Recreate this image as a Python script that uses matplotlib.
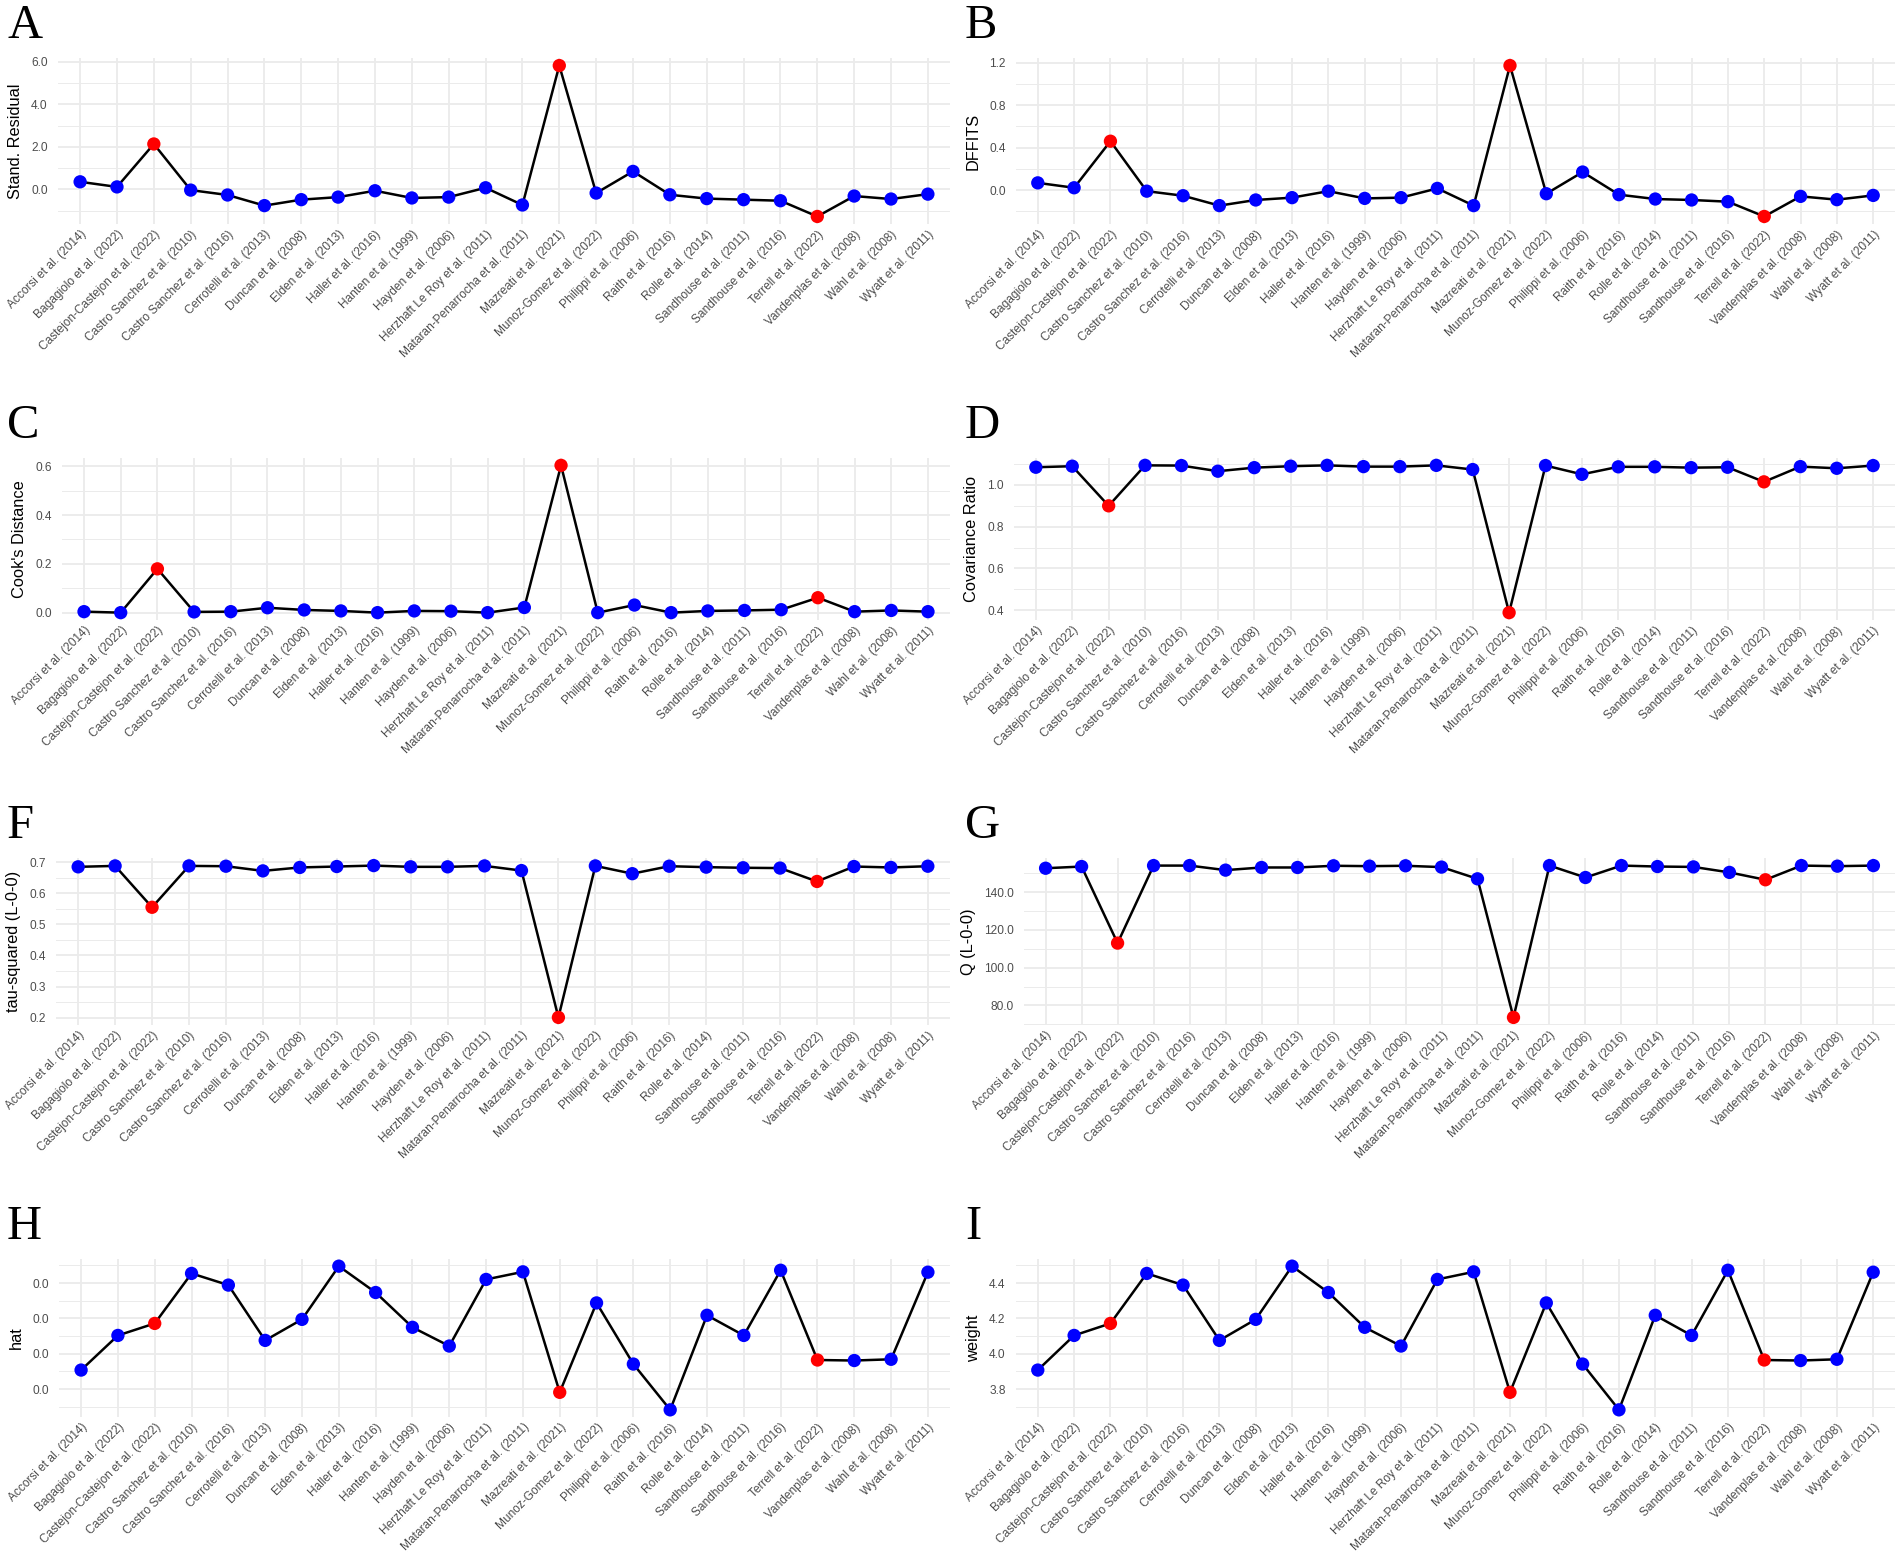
import matplotlib
matplotlib.use("Agg")
import matplotlib.pyplot as plt
from matplotlib.ticker import MultipleLocator, AutoMinorLocator, FormatStrFormatter

# ----------------------------
# Data
# ----------------------------

studies = [
    "Accorsi et al. (2014)", "Bagagiolo et al. (2022)",
    "Castejon-Castejon et al. (2022)", "Castro Sanchez et al. (2010)",
    "Castro Sanchez et al. (2016)", "Cerrotelli et al. (2013)",
    "Duncan et al. (2008)", "Elden et al. (2013)", "Haller et al. (2016)",
    "Hanten et al. (1999)", "Hayden et al. (2006)",
    "Herzhaft Le Roy et al. (2011)", "Mataran-Penarrocha et al. (2011)",
    "Mazreati et al. (2021)", "Munoz-Gomez et al. (2022)",
    "Philippi et al. (2006)", "Raith et al. (2016)", "Rolle et al. (2014)",
    "Sandhouse et al. (2011)", "Sandhouse et al. (2016)",
    "Terrell et al. (2022)", "Vandenplas et al. (2008)",
    "Wahl et al. (2008)", "Wyatt et al. (2011)",
]

# studies flagged as influential (drawn in red)
influential = [
    "Castejon-Castejon et al. (2022)",
    "Mazreati et al. (2021)",
    "Terrell et al. (2022)",
]

stand_residual = [0.36, 0.12, 2.14, -0.03, -0.26, -0.76, -0.48, -0.36, -0.06,
                  -0.40, -0.36, 0.08, -0.73, 5.83, -0.17, 0.85, -0.25, -0.43,
                  -0.48, -0.53, -1.27, -0.31, -0.45, -0.22]

dffits = [0.068, 0.022, 0.46, -0.010, -0.053, -0.146, -0.093, -0.071, -0.010,
          -0.078, -0.071, 0.016, -0.146, 1.172, -0.034, 0.170, -0.043, -0.084,
          -0.093, -0.109, -0.248, -0.059, -0.090, -0.050]

cooks_distance = [0.005, 0.001, 0.180, 0.004, 0.005, 0.021, 0.012, 0.008,
                  0.001, 0.008, 0.007, 0.001, 0.022, 0.603, 0.001, 0.032,
                  0.001, 0.008, 0.010, 0.013, 0.062, 0.005, 0.010, 0.005]

cov_ratio = [1.085, 1.090, 0.900, 1.094, 1.093, 1.066, 1.083, 1.090, 1.094,
             1.088, 1.088, 1.094, 1.074, 0.388, 1.093, 1.051, 1.087, 1.087,
             1.083, 1.085, 1.015, 1.088, 1.080, 1.093]

tau2_loo = [0.685, 0.688, 0.555, 0.688, 0.687, 0.672, 0.683, 0.686, 0.689,
            0.685, 0.685, 0.688, 0.673, 0.201, 0.688, 0.663, 0.687, 0.684,
            0.682, 0.681, 0.638, 0.686, 0.683, 0.687]

q_loo = [152.6, 153.5, 113.0, 154.0, 154.0, 151.6, 153.0, 153.0, 153.9,
         153.7, 153.9, 153.2, 147.0, 73.7, 154.0, 147.7, 154.0, 153.5,
         153.3, 150.4, 146.5, 154.0, 153.7, 154.0]

hat = [0.03908, 0.04104, 0.04172, 0.04455, 0.04389, 0.04076, 0.04195,
       0.04496, 0.04347, 0.04150, 0.04044, 0.04421, 0.04464, 0.03782,
       0.04288, 0.03942, 0.03683, 0.04218, 0.04104, 0.04473, 0.03965,
       0.03962, 0.03969, 0.04462]

weight = [3.908, 4.104, 4.172, 4.455, 4.389, 4.076, 4.195, 4.496, 4.347,
          4.150, 4.044, 4.421, 4.464, 3.782, 4.288, 3.942, 3.683, 4.218,
          4.104, 4.473, 3.965, 3.962, 3.969, 4.462]

# ----------------------------
# Panel layout (pixels in a 1902 x 1559 figure)
# ----------------------------

W, H = 1902, 1559

# letter, y label, values, tick step, axes left, top, right, height
panels = [
    ("A", "Stand. Residual", stand_residual, 2.0, 58, 58, 950, 166),
    ("B", "DFFITS", dffits, 0.4, 1016, 58, 1895, 166),
    ("C", "Cook's Distance", cooks_distance, 0.2, 62, 458, 950, 162),
    ("D", "Covariance Ratio", cov_ratio, 0.2, 1014, 458, 1895, 162),
    ("F", "tau-squared (L-0-0)", tau2_loo, 0.1, 56, 858, 950, 167),
    ("G", "Q (L-0-0)", q_loo, 20.0, 1024, 858, 1895, 167),
    ("H", "hat", hat, 0.002, 59, 1259, 950, 158),
    ("I", "weight", weight, 0.2, 1016, 1259, 1895, 158),
]

GRID = "#EBEBEB"
TXT = "#4D4D4D"
SANS = ["Liberation Sans", "DejaVu Sans"]
SERIF = ["Liberation Serif", "DejaVu Serif"]

plt.rcParams["font.family"] = SANS

fig = plt.figure(figsize=(W / 100, H / 100), dpi=100)

point_colors = ["#FF0000" if s in influential else "#0000FF" for s in studies]

for letter, ylabel, values, step, left, top, right, height in panels:
    ax = fig.add_axes([left / W, 1 - (top + height) / H,
                       (right - left) / W, height / H])

    ax.plot(studies, values, color="black", linewidth=1.8, zorder=2)
    ax.scatter(studies, values, c=point_colors, s=92, linewidths=0, zorder=3)

    ax.set_xlim(-0.6, len(studies) - 0.4)
    ax.margins(y=0.05)

    ax.yaxis.set_major_locator(MultipleLocator(step))
    ax.yaxis.set_minor_locator(AutoMinorLocator(2))
    ax.yaxis.set_major_formatter(FormatStrFormatter("%.1f"))

    ax.grid(True, which="major", color=GRID, linewidth=1.3, zorder=0)
    ax.grid(True, which="minor", axis="y", color=GRID, linewidth=0.7, zorder=0)
    ax.set_axisbelow(True)

    for spine in ax.spines.values():
        spine.set_visible(False)

    ax.tick_params(axis="both", which="both", length=0)
    ax.tick_params(axis="y", labelsize=8.6, labelcolor=TXT, pad=7.5)
    ax.tick_params(axis="x", labelsize=8.6, labelcolor=TXT, pad=3)
    plt.setp(ax.get_xticklabels(), rotation=45, ha="right", va="top",
             rotation_mode="anchor")

    ax.set_ylabel(ylabel, fontsize=11.8, color="black", labelpad=6)

    letter_x = 7 if left < 500 else 965
    letter_y = top - 54
    fig.text(letter_x / W, 1 - letter_y / H, letter, family=SERIF,
             fontsize=35, ha="left", va="top", color="black")

fig.savefig("out.png", dpi=100, facecolor="white")
